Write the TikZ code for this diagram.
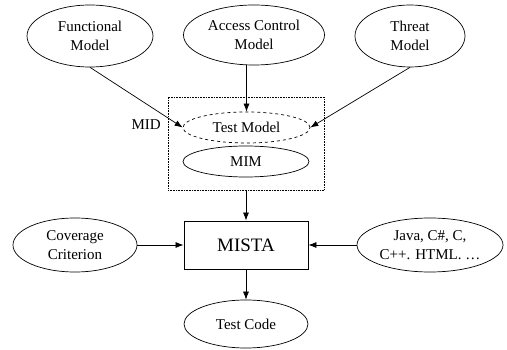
\documentclass[tikz,border=0pt]{standalone}
\usepackage{fontspec}
\setmainfont{Liberation Serif}
\usetikzlibrary{shapes.geometric,arrows.meta}
\begin{document}
\begin{tikzpicture}[x=1pt,y=-1pt,
  ell/.style={draw,ellipse,inner sep=0pt,align=center,line width=0.7pt,
    font=\fontsize{15}{19}\selectfont},
  arr/.style={-{Latex[length=8pt,width=6pt]},line width=0.7pt},
  ln/.style={line width=0.7pt}]
\useasboundingbox (0,0) rectangle (507,350);
\node[ell,minimum width=126pt,minimum height=62pt] (fm) at (90,36) {Functional\\Model};
\node[ell,minimum width=141pt,minimum height=60pt] (ac) at (254,35) {Access Control\\Model};
\node[ell,minimum width=110pt,minimum height=62pt] (thr) at (410,36) {Threat\\Model};
\node[draw,densely dotted,line width=0.6pt,minimum width=156pt,minimum height=93pt,inner sep=0pt] (mid) at (246,143.5) {};
\node[font=\fontsize{15}{19}\selectfont,anchor=east,inner sep=0pt] (midl) at (161,125) {MID};
\node[ell,dashed,minimum width=127pt,minimum height=31pt] (tm) at (246.5,127.5) {Test Model};
\node[ell,minimum width=126pt,minimum height=31pt] (mim) at (246,161.5) {MIM};
\node[draw,line width=0.9pt,minimum width=124pt,minimum height=48pt,inner sep=0pt,
  font=\fontsize{19}{23}\selectfont] (mista) at (246,245) {MISTA};
\node[ell,minimum width=124pt,minimum height=54pt] (cov) at (75,245) {Coverage\\Criterion};
\node[ell,minimum width=146pt,minimum height=54pt] (lang) at (430,245) {Java, C\#, C,\\C++. HTML. …};
\node[ell,minimum width=124pt,minimum height=48pt] (tc) at (246,324) {Test Code};
\draw[arr] (fm.south) -- (tm.west);
\draw[arr] (thr.south) -- (tm.east);
\draw[arr] (ac.south -| tm.north) -- (tm.north);
\draw[arr] (mid.south) -- (mista.north);
\draw[arr] (cov.east) -- (cov.east -| mista.west);
\draw[arr] (lang.west) -- (lang.west -| mista.east);
\draw[arr] (mista.south) -- (tc.north);
\end{tikzpicture}
\end{document}
